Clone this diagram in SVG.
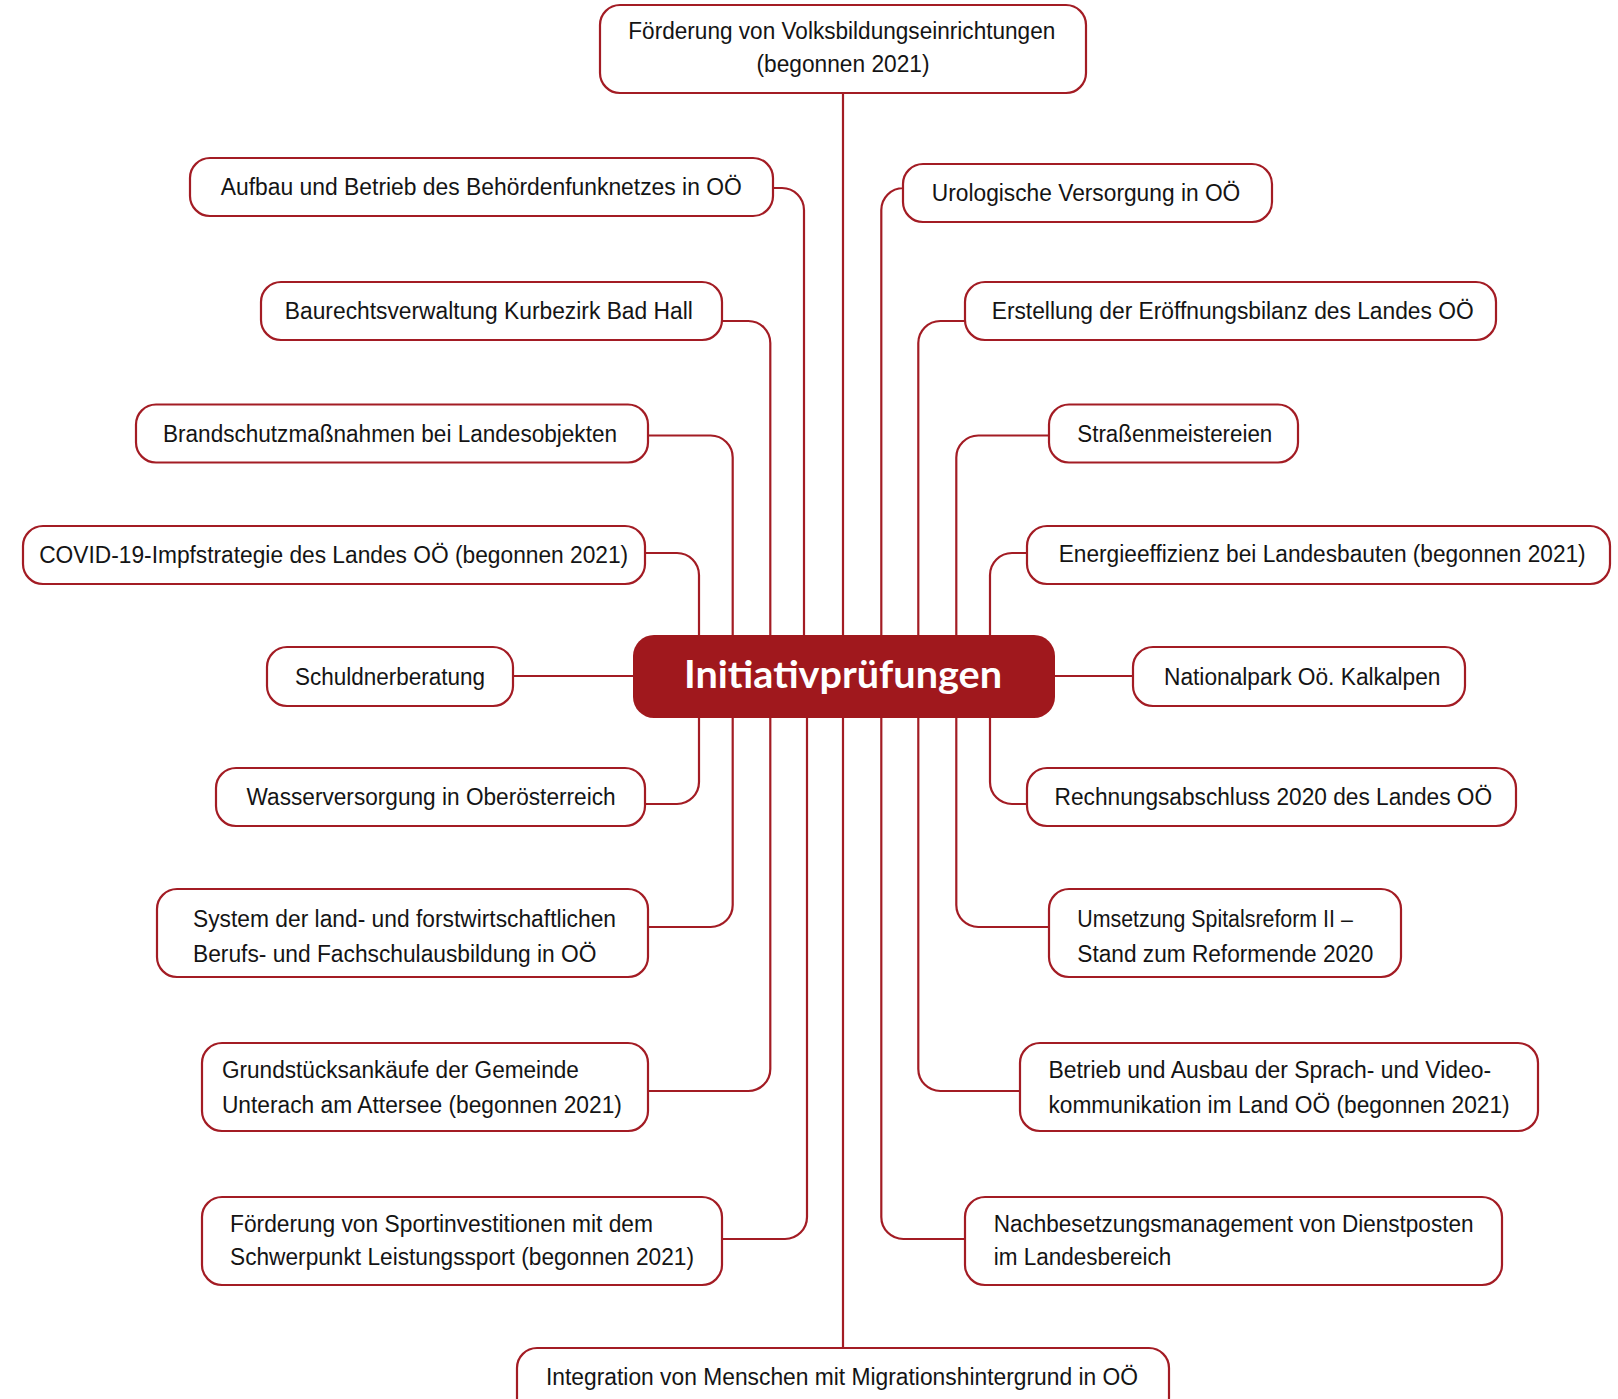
<svg xmlns="http://www.w3.org/2000/svg" width="1618" height="1399" viewBox="0 0 1618 1399">
<style>
.n{fill:#fff;stroke:#a31c24;stroke-width:2.2}
.t{font-family:"Liberation Sans",Arial,sans-serif;font-size:23.5px;fill:#141414}
.c{fill:none;stroke:#a31c24;stroke-width:2.2}
</style>
<rect width="1618" height="1399" fill="#fff"/>
<g id="connectors">
<path class="c" d="M843,93 V635"/>
<path class="c" d="M843,718 V1348"/>
<path class="c" d="M773,188 H782 A22,22 0 0 1 804,210 V635"/>
<path class="c" d="M722,321 H748.3 A22,22 0 0 1 770.3,343 V635"/>
<path class="c" d="M648,435.5 H710.7 A22,22 0 0 1 732.7,457.5 V635"/>
<path class="c" d="M645,553 H677 A22,22 0 0 1 699,575 V635"/>
<path class="c" d="M513,676 H633"/>
<path class="c" d="M699,718 V782 A22,22 0 0 1 677,804 H645"/>
<path class="c" d="M732.7,718 V905 A22,22 0 0 1 710.7,927 H648"/>
<path class="c" d="M770.3,718 V1069 A22,22 0 0 1 748.3,1091 H648"/>
<path class="c" d="M807,718 V1217 A22,22 0 0 1 785,1239 H722"/>
<path class="c" d="M903,188 H903.3 A22,22 0 0 0 881.3,210 V635"/>
<path class="c" d="M965,321 H940.3 A22,22 0 0 0 918.3,343 V635"/>
<path class="c" d="M1049,435.5 H978.3 A22,22 0 0 0 956.3,457.5 V635"/>
<path class="c" d="M1027,553 H1012 A22,22 0 0 0 990,575 V635"/>
<path class="c" d="M1055,676 H1133"/>
<path class="c" d="M990,718 V782 A22,22 0 0 0 1012,804 H1027"/>
<path class="c" d="M956.3,718 V905 A22,22 0 0 0 978.3,927 H1049"/>
<path class="c" d="M918.3,718 V1069 A22,22 0 0 0 940.3,1091 H1020"/>
<path class="c" d="M881.3,718 V1217 A22,22 0 0 0 903.3,1239 H965"/>
</g>
<g id="center">
<rect x="633" y="635" width="422" height="83" rx="21" fill="#a0181d"/>
<text x="843" y="688" text-anchor="middle" font-family="Lato,'Open Sans',sans-serif" font-weight="bold" font-size="38" fill="#fff" textLength="318" lengthAdjust="spacingAndGlyphs">Initiativprüfungen</text>
</g>
<g id="n-foerderung">
<rect class="n" x="600" y="5" width="486" height="88" rx="20"/>
<text class="t" x="628.3" y="38.5" textLength="427" lengthAdjust="spacingAndGlyphs">Förderung von Volksbildungseinrichtungen</text>
<text class="t" x="756.5" y="72" textLength="173" lengthAdjust="spacingAndGlyphs">(begonnen 2021)</text>
</g>
<g id="n-aufbau">
<rect class="n" x="190" y="158" width="583" height="58" rx="20"/>
<text class="t" x="220.8" y="195" textLength="521" lengthAdjust="spacingAndGlyphs">Aufbau und Betrieb des Behördenfunknetzes in OÖ</text>
</g>
<g id="n-baurecht">
<rect class="n" x="261" y="282" width="461" height="58" rx="20"/>
<text class="t" x="284.8" y="319" textLength="408" lengthAdjust="spacingAndGlyphs">Baurechtsverwaltung Kurbezirk Bad Hall</text>
</g>
<g id="n-brandschutz">
<rect class="n" x="136" y="404.5" width="512" height="58" rx="20"/>
<text class="t" x="163" y="441.5" textLength="454" lengthAdjust="spacingAndGlyphs">Brandschutzmaßnahmen bei Landesobjekten</text>
</g>
<g id="n-covid">
<rect class="n" x="23" y="526" width="622" height="58" rx="20"/>
<text class="t" x="39.2" y="563" textLength="589" lengthAdjust="spacingAndGlyphs">COVID-19-Impfstrategie des Landes OÖ (begonnen 2021)</text>
</g>
<g id="n-schuldner">
<rect class="n" x="267" y="647" width="246" height="59" rx="20"/>
<text class="t" x="295" y="684.5" textLength="190" lengthAdjust="spacingAndGlyphs">Schuldnerberatung</text>
</g>
<g id="n-wasser">
<rect class="n" x="216" y="768" width="429" height="58" rx="20"/>
<text class="t" x="246.6" y="805" textLength="369" lengthAdjust="spacingAndGlyphs">Wasserversorgung in Oberösterreich</text>
</g>
<g id="n-system">
<rect class="n" x="157" y="889" width="491" height="88" rx="20"/>
<text class="t" x="193" y="927" textLength="423" lengthAdjust="spacingAndGlyphs">System der land- und forstwirtschaftlichen</text>
<text class="t" x="193" y="961.5" textLength="403.5" lengthAdjust="spacingAndGlyphs">Berufs- und Fachschulausbildung in OÖ</text>
</g>
<g id="n-grundstueck">
<rect class="n" x="202" y="1043" width="446" height="88" rx="20"/>
<text class="t" x="221.9" y="1078" textLength="357" lengthAdjust="spacingAndGlyphs">Grundstücksankäufe der Gemeinde</text>
<text class="t" x="221.9" y="1113" textLength="400" lengthAdjust="spacingAndGlyphs">Unterach am Attersee (begonnen 2021)</text>
</g>
<g id="n-sport">
<rect class="n" x="202" y="1197" width="520" height="88" rx="20"/>
<text class="t" x="230" y="1232" textLength="423" lengthAdjust="spacingAndGlyphs">Förderung von Sportinvestitionen mit dem</text>
<text class="t" x="230" y="1265" textLength="464" lengthAdjust="spacingAndGlyphs">Schwerpunkt Leistungssport (begonnen 2021)</text>
</g>
<g id="n-integration">
<rect class="n" x="517" y="1348" width="652" height="70" rx="20"/>
<text class="t" x="546" y="1385" textLength="592" lengthAdjust="spacingAndGlyphs">Integration von Menschen mit Migrationshintergrund in OÖ</text>
</g>
<g id="n-urologie">
<rect class="n" x="903" y="164" width="369" height="58" rx="20"/>
<text class="t" x="931.8" y="201" textLength="308.5" lengthAdjust="spacingAndGlyphs">Urologische Versorgung in OÖ</text>
</g>
<g id="n-eroeffnung">
<rect class="n" x="965" y="282" width="531" height="58" rx="20"/>
<text class="t" x="991.7" y="319" textLength="482" lengthAdjust="spacingAndGlyphs">Erstellung der Eröffnungsbilanz des Landes OÖ</text>
</g>
<g id="n-strassen">
<rect class="n" x="1049" y="404.5" width="249" height="58" rx="20"/>
<text class="t" x="1077.3" y="441.5" textLength="195" lengthAdjust="spacingAndGlyphs">Straßenmeistereien</text>
</g>
<g id="n-energie">
<rect class="n" x="1027" y="526" width="583" height="58" rx="20"/>
<text class="t" x="1058.7" y="562" textLength="527" lengthAdjust="spacingAndGlyphs">Energieeffizienz bei Landesbauten (begonnen 2021)</text>
</g>
<g id="n-nationalpark">
<rect class="n" x="1133" y="647" width="332" height="59" rx="20"/>
<text class="t" x="1164" y="684.5" textLength="276.5" lengthAdjust="spacingAndGlyphs">Nationalpark Oö. Kalkalpen</text>
</g>
<g id="n-rechnung">
<rect class="n" x="1027" y="768" width="489" height="58" rx="20"/>
<text class="t" x="1054.6" y="805" textLength="437.5" lengthAdjust="spacingAndGlyphs">Rechnungsabschluss 2020 des Landes OÖ</text>
</g>
<g id="n-spital">
<rect class="n" x="1049" y="889" width="352" height="88" rx="20"/>
<text class="t" x="1077.3" y="927" textLength="275.5" lengthAdjust="spacingAndGlyphs">Umsetzung Spitalsreform II –</text>
<text class="t" x="1077.3" y="961.5" textLength="296" lengthAdjust="spacingAndGlyphs">Stand zum Reformende 2020</text>
</g>
<g id="n-sprach">
<rect class="n" x="1020" y="1043" width="518" height="88" rx="20"/>
<text class="t" x="1048.4" y="1078" textLength="442.7" lengthAdjust="spacingAndGlyphs">Betrieb und Ausbau der Sprach- und Video-</text>
<text class="t" x="1048.4" y="1113" textLength="461.3" lengthAdjust="spacingAndGlyphs">kommunikation im Land OÖ (begonnen 2021)</text>
</g>
<g id="n-nachbesetzung">
<rect class="n" x="965" y="1197" width="537" height="88" rx="20"/>
<text class="t" x="993.7" y="1232" textLength="479.8" lengthAdjust="spacingAndGlyphs">Nachbesetzungsmanagement von Dienstposten</text>
<text class="t" x="993.7" y="1265" textLength="177.5" lengthAdjust="spacingAndGlyphs">im Landesbereich</text>
</g>
</svg>
